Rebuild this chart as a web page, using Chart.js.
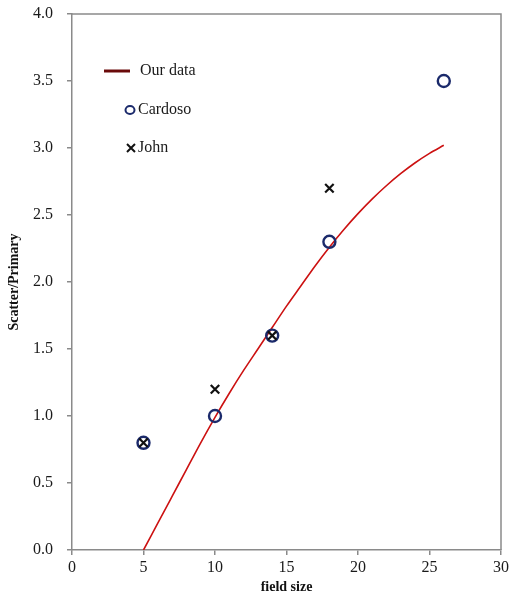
<!DOCTYPE html>
<html>
<head>
<meta charset="utf-8">
<script src="https://cdn.jsdelivr.net/npm/chart.js@4"></script>
<style>
  html, body { margin: 0; padding: 0; background: #fff; }
  #wrap { width: 511px; height: 596px; }
</style>
</head>
<body>
<div id="wrap"><canvas id="scatterChart"></canvas></div>
<script>
// values
const ourX = [5, 6, 7, 8, 9, 10, 11, 12, 13, 14, 15, 16, 17, 18, 19, 20, 21, 22, 23, 24, 25, 26];
const ourY = [0, 0.20, 0.40, 0.60, 0.80, 0.99, 1.17, 1.34, 1.50, 1.66, 1.82, 1.97, 2.12, 2.26, 2.39, 2.51, 2.62, 2.72, 2.81, 2.89, 2.96, 3.02];
const cardosoX = [5, 10, 14, 18, 26];
const cardosoY = [0.8, 1.0, 1.6, 2.3, 3.5];
const johnX = [5, 10, 14, 18];
const johnY = [0.8, 1.2, 1.6, 2.7];
const xTicks = [0, 5, 10, 15, 20, 25, 30];

const serif = '"Liberation Serif", "DejaVu Serif", serif';
const navy = '#1b2a6b';

const pts = (xs, ys) => xs.map((x, i) => ({x: x, y: ys[i]}));

// box on top/right + legend inside the plot
const framePlugin = {
  id: 'frame',
  afterDraw(chart) {
    const ctx = chart.ctx;
    const a = chart.chartArea;
    ctx.save();
    ctx.strokeStyle = '#8a8a8a';
    ctx.lineWidth = 1.5;
    ctx.beginPath();
    ctx.moveTo(a.left, a.top);
    ctx.lineTo(a.right, a.top);
    ctx.lineTo(a.right, a.bottom);
    ctx.stroke();

    ctx.font = '16px ' + serif;
    ctx.fillStyle = '#1a1a1a';
    ctx.textBaseline = 'middle';
    // Our data
    ctx.strokeStyle = '#6a0a0a';
    ctx.lineWidth = 3;
    ctx.beginPath();
    ctx.moveTo(a.left + 32, a.top + 57);
    ctx.lineTo(a.left + 58, a.top + 57);
    ctx.stroke();
    ctx.fillText('Our data', a.left + 68, a.top + 57);
    // Cardoso
    ctx.strokeStyle = navy;
    ctx.lineWidth = 2;
    ctx.beginPath();
    ctx.ellipse(a.left + 58, a.top + 96, 4.5, 4, 0, 0, Math.PI * 2);
    ctx.stroke();
    ctx.fillText('Cardoso', a.left + 66, a.top + 96);
    // John
    ctx.strokeStyle = '#111';
    ctx.beginPath();
    ctx.moveTo(a.left + 55, a.top + 130);
    ctx.lineTo(a.left + 63, a.top + 138);
    ctx.moveTo(a.left + 63, a.top + 130);
    ctx.lineTo(a.left + 55, a.top + 138);
    ctx.stroke();
    ctx.fillText('John', a.left + 66, a.top + 134);
    ctx.restore();
  }
};

new Chart(document.getElementById('scatterChart'), {
  type: 'scatter',
  data: {
    datasets: [{
      label: 'Our data',
      data: pts(ourX, ourY),
      showLine: true,
      borderColor: '#cc1111',
      borderWidth: 1.6,
      pointRadius: 0,
      cubicInterpolationMode: 'monotone',
      order: 3
    }, {
      label: 'Cardoso',
      data: pts(cardosoX, cardosoY),
      pointStyle: 'circle',
      pointRadius: 6,
      borderColor: navy,
      backgroundColor: 'rgba(0,0,0,0)',
      pointBorderWidth: 2.4,
      order: 2
    }, {
      label: 'John',
      data: pts(johnX, johnY),
      pointStyle: 'crossRot',
      pointRadius: 6,
      borderColor: '#111',
      pointBorderWidth: 2.2,
      order: 1
    }]
  },
  options: {
    responsive: true,
    maintainAspectRatio: false,
    animation: false,
    layout: { padding: { top: 14, right: 10, left: 0, bottom: 0 } },
    plugins: {
      legend: { display: false },
      tooltip: { enabled: false }
    },
    scales: {
      x: {
        type: 'linear',
        min: 0, max: 30,
        afterBuildTicks: axis => { axis.ticks = xTicks.map(v => ({value: v})); },
        afterFit: axis => { axis.height = 46; axis.paddingRight = 0; axis.paddingLeft = 0; },
        grid: { drawOnChartArea: false, tickLength: 5, color: '#8a8a8a', lineWidth: 1.5 },
        border: { color: '#8a8a8a', width: 1.5 },
        ticks: { color: '#1a1a1a', font: { family: serif, size: 16 }, padding: 3, maxRotation: 0 },
        title: { display: true, text: 'field size', color: '#111', font: { family: serif, size: 14, weight: 'bold' }, padding: { top: 0, bottom: 0 } }
      },
      y: {
        min: 0, max: 4,
        afterFit: axis => { axis.width = 72; axis.paddingTop = 0; axis.paddingBottom = 0; },
        grid: { drawOnChartArea: false, tickLength: 5, color: '#8a8a8a', lineWidth: 1.5 },
        border: { color: '#8a8a8a', width: 1.5 },
        ticks: { stepSize: 0.5, color: '#1a1a1a', font: { family: serif, size: 16 }, padding: 14,
                 callback: v => v.toFixed(1) },
        title: { display: true, text: 'Scatter/Primary', color: '#111', font: { family: serif, size: 14, weight: 'bold' }, padding: { top: 6, bottom: 2 } }
      }
    }
  },
  plugins: [framePlugin]
});
</script>
</body>
</html>
